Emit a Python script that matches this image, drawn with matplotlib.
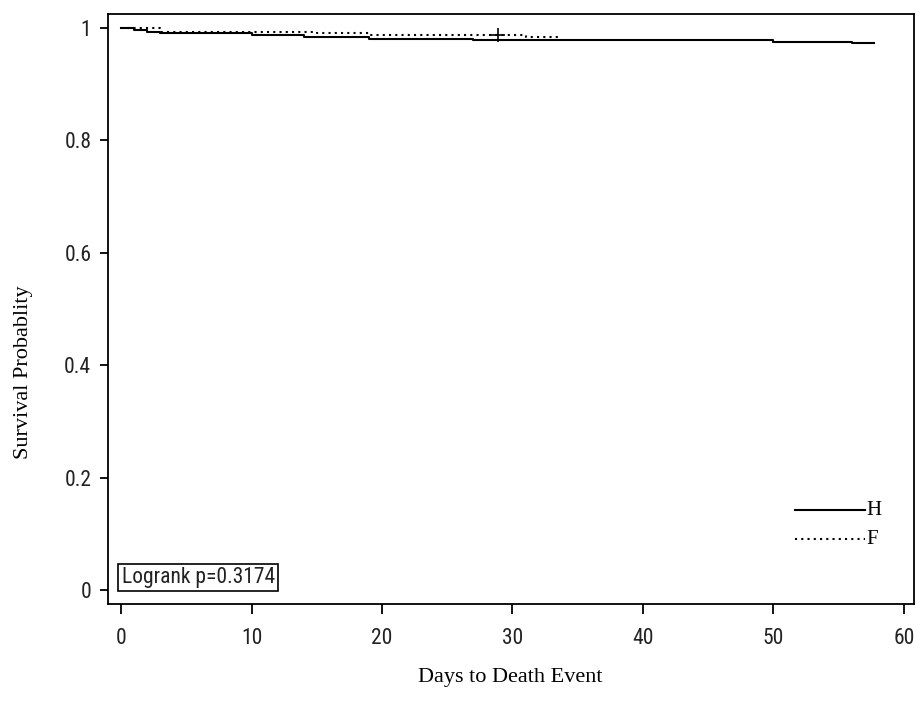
import matplotlib.pyplot as plt

# step-function survival estimates
h_days = [0, 1, 2, 3, 10, 14, 19, 27, 50, 56, 57.7]
h_surv = [1.0, 0.996, 0.993, 0.991, 0.987, 0.984, 0.981, 0.979, 0.975, 0.973, 0.973]
f_days = [0, 3, 15, 19, 31, 33.8]
f_surv = [1.0, 0.993, 0.991, 0.988, 0.985, 0.985]
f_cens_day = [28.9]
f_cens_surv = [0.988]

xticks = [0, 10, 20, 30, 40, 50, 60]
yticks = [0, 0.2, 0.4, 0.6, 0.8, 1.0]
yticklabels = ['0', '0.2', '0.4', '0.6', '0.8', '1']

narrow = ['Roboto Condensed', 'DejaVu Sans']
serif = 'Liberation Serif'

fig = plt.figure(figsize=(9.16, 7.02), dpi=100)
ax = fig.add_axes([0.1179, 0.1396, 0.8799, 0.8404])

ax.step(h_days, h_surv, where='post', color='black', lw=1.5, label='H')
ax.step(f_days, f_surv, where='post', color='black', lw=1.5, ls=(0, (1, 2)), label='F')
ax.plot(f_cens_day, f_cens_surv, marker='+', ls='none', color='black', ms=10, mew=1.2)

ax.set_xlim(-1.0, 60.77)
ax.set_ylim(-0.025, 1.025)
ax.set_xticks(xticks)
ax.set_yticks(yticks)
ax.set_yticklabels(yticklabels)
ax.tick_params(axis='x', direction='out', length=7, width=1.3, pad=10)
ax.tick_params(axis='y', direction='out', length=6, width=1.3, pad=6)
for lab in ax.get_xticklabels() + ax.get_yticklabels():
    lab.set_family(narrow)
    lab.set_fontsize(15.5)
    lab.set_fontweight('normal')
    lab.set_color('#222222')
for s in ax.spines.values():
    s.set_linewidth(1.3)

ax.set_xlabel('Days to Death Event', family=serif, fontsize=16)
ax.xaxis.set_label_coords(0.4988, -0.108)
ax.set_ylabel('Survival Probablity', family=serif, fontsize=16)
ax.yaxis.set_label_coords(-0.093, 0.393)

# legend drawn as lines + labels
ax.plot([51.65, 57.0], [0.142, 0.142], color='black', lw=1.5)
ax.text(57.1, 0.142, 'H', family=serif, fontsize=15, va='center', ha='left')
ax.plot([51.65, 57.0], [0.09, 0.09], color='black', lw=1.5, ls=(0, (1, 2)))
ax.text(57.1, 0.09, 'F', family=serif, fontsize=15, va='center', ha='left')

ax.text(0.05, 0.022, 'Logrank p=0.3174', family=narrow, fontsize=15.5, color='#222222',
        va='center', ha='left',
        bbox=dict(boxstyle='square,pad=0.15', fc='white', ec='black', lw=1.2))

fig.savefig('out.png', dpi=100)
